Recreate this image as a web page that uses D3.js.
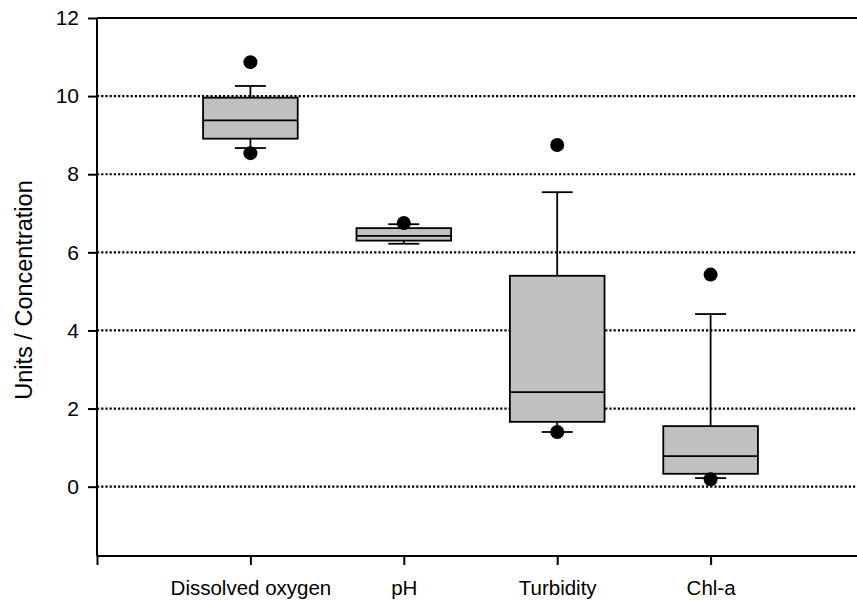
<!DOCTYPE html>
<html>
<head>
<meta charset="utf-8">
<script src="https://cdn.jsdelivr.net/npm/d3@7"></script>
<style>
  html, body { margin: 0; padding: 0; background: #fff; }
  svg { display: block; font-family: "Liberation Sans", Arial, sans-serif; }
</style>
</head>
<body>
<svg id="chart" width="857" height="601"></svg>
<script>
// Water-quality parameters summarised as box plots
const categories = ["Dissolved oxygen", "pH", "Turbidity", "Chl-a"];
const q1      = [8.91, 6.30, 1.66, 0.33];
const median  = [9.38, 6.42, 2.42, 0.78];
const q3      = [9.96, 6.62, 5.40, 1.55];
const whiskerLow  = [8.67, 6.22, 1.40, 0.22];
const whiskerHigh = [10.26, 6.72, 7.54, 4.42];
const outliers = [[10.87, 8.54], [6.75], [8.75, 1.40], [5.43, 0.19]];
const yTicks = [0, 2, 4, 6, 8, 10, 12];

const svg = d3.select("#chart");
const plotLeft = 97, plotRight = 864, plotTop = 18, plotBottom = 556;

const x = d3.scaleLinear().domain([0, categories.length + 1]).range([plotLeft, plotRight]);
const y = d3.scaleLinear().domain([-1.775, 12]).range([plotBottom, plotTop]);

const step = x(1) - x(0);
const boxW = step * 0.617;
const capW = 31;
const sw = 1.8;

// Dotted horizontal grid lines (solid frame line at the top value)
svg.append("g").selectAll("line")
  .data(yTicks.filter(t => t < 12))
  .join("line")
  .attr("x1", plotLeft).attr("x2", plotRight)
  .attr("y1", d => y(d)).attr("y2", d => y(d))
  .attr("stroke", "#000").attr("stroke-width", 2.2)
  .attr("stroke-dasharray", "2.2,2");

svg.append("line")
  .attr("x1", plotLeft).attr("x2", plotRight)
  .attr("y1", y(12)).attr("y2", y(12))
  .attr("stroke", "#000").attr("stroke-width", 2);

// Y axis
const yAxis = svg.append("g")
  .attr("transform", `translate(${plotLeft},0)`)
  .call(d3.axisLeft(y).tickValues(yTicks).tickSize(9).tickPadding(9).tickFormat(d3.format("d")));
yAxis.select(".domain").attr("stroke-width", 2).attr("d", `M0,${plotTop}V${plotBottom}`);
yAxis.selectAll(".tick line").attr("stroke-width", 2);
yAxis.selectAll(".tick text").attr("font-size", 21).attr("fill", "#000")
  .attr("font-family", "Liberation Sans, Arial, sans-serif");

// X axis
const xAxis = svg.append("g")
  .attr("transform", `translate(0,${plotBottom})`)
  .call(d3.axisBottom(x).tickValues([0, 1, 2, 3, 4]).tickSize(9).tickPadding(15)
    .tickFormat(d => d === 0 ? "" : categories[d - 1]));
xAxis.select(".domain").attr("stroke-width", 2).attr("d", `M${plotLeft},0H${plotRight}`);
xAxis.selectAll(".tick line").attr("stroke-width", 2);
xAxis.selectAll(".tick text").attr("font-size", 20.5).attr("fill", "#000")
  .attr("font-family", "Liberation Sans, Arial, sans-serif");

// Y axis title
svg.append("text")
  .attr("transform", `translate(32,290) rotate(-90)`)
  .attr("text-anchor", "middle")
  .attr("font-size", 23.5)
  .text("Units / Concentration");

// Boxes
const boxes = svg.append("g").selectAll("g")
  .data(categories.map((c, i) => ({ c, i, cx: x(i + 1) })))
  .join("g");

boxes.append("line") // upper whisker
  .attr("x1", d => d.cx).attr("x2", d => d.cx)
  .attr("y1", d => y(q3[d.i])).attr("y2", d => y(whiskerHigh[d.i]))
  .attr("stroke", "#000").attr("stroke-width", sw);
boxes.append("line") // lower whisker
  .attr("x1", d => d.cx).attr("x2", d => d.cx)
  .attr("y1", d => y(q1[d.i])).attr("y2", d => y(whiskerLow[d.i]))
  .attr("stroke", "#000").attr("stroke-width", sw);
boxes.append("line")
  .attr("x1", d => d.cx - capW / 2).attr("x2", d => d.cx + capW / 2)
  .attr("y1", d => y(whiskerHigh[d.i])).attr("y2", d => y(whiskerHigh[d.i]))
  .attr("stroke", "#000").attr("stroke-width", sw);
boxes.append("line")
  .attr("x1", d => d.cx - capW / 2).attr("x2", d => d.cx + capW / 2)
  .attr("y1", d => y(whiskerLow[d.i])).attr("y2", d => y(whiskerLow[d.i]))
  .attr("stroke", "#000").attr("stroke-width", sw);

boxes.append("rect")
  .attr("x", d => d.cx - boxW / 2).attr("width", boxW)
  .attr("y", d => y(q3[d.i])).attr("height", d => y(q1[d.i]) - y(q3[d.i]))
  .attr("fill", "#c0c0c0").attr("stroke", "#000").attr("stroke-width", sw);
boxes.append("line")
  .attr("x1", d => d.cx - boxW / 2).attr("x2", d => d.cx + boxW / 2)
  .attr("y1", d => y(median[d.i])).attr("y2", d => y(median[d.i]))
  .attr("stroke", "#000").attr("stroke-width", sw);

boxes.selectAll("circle")
  .data(d => outliers[d.i].map(v => ({ v, cx: d.cx })))
  .join("circle")
  .attr("cx", d => d.cx).attr("cy", d => y(d.v)).attr("r", 7)
  .attr("fill", "#000");
</script>
</body>
</html>
